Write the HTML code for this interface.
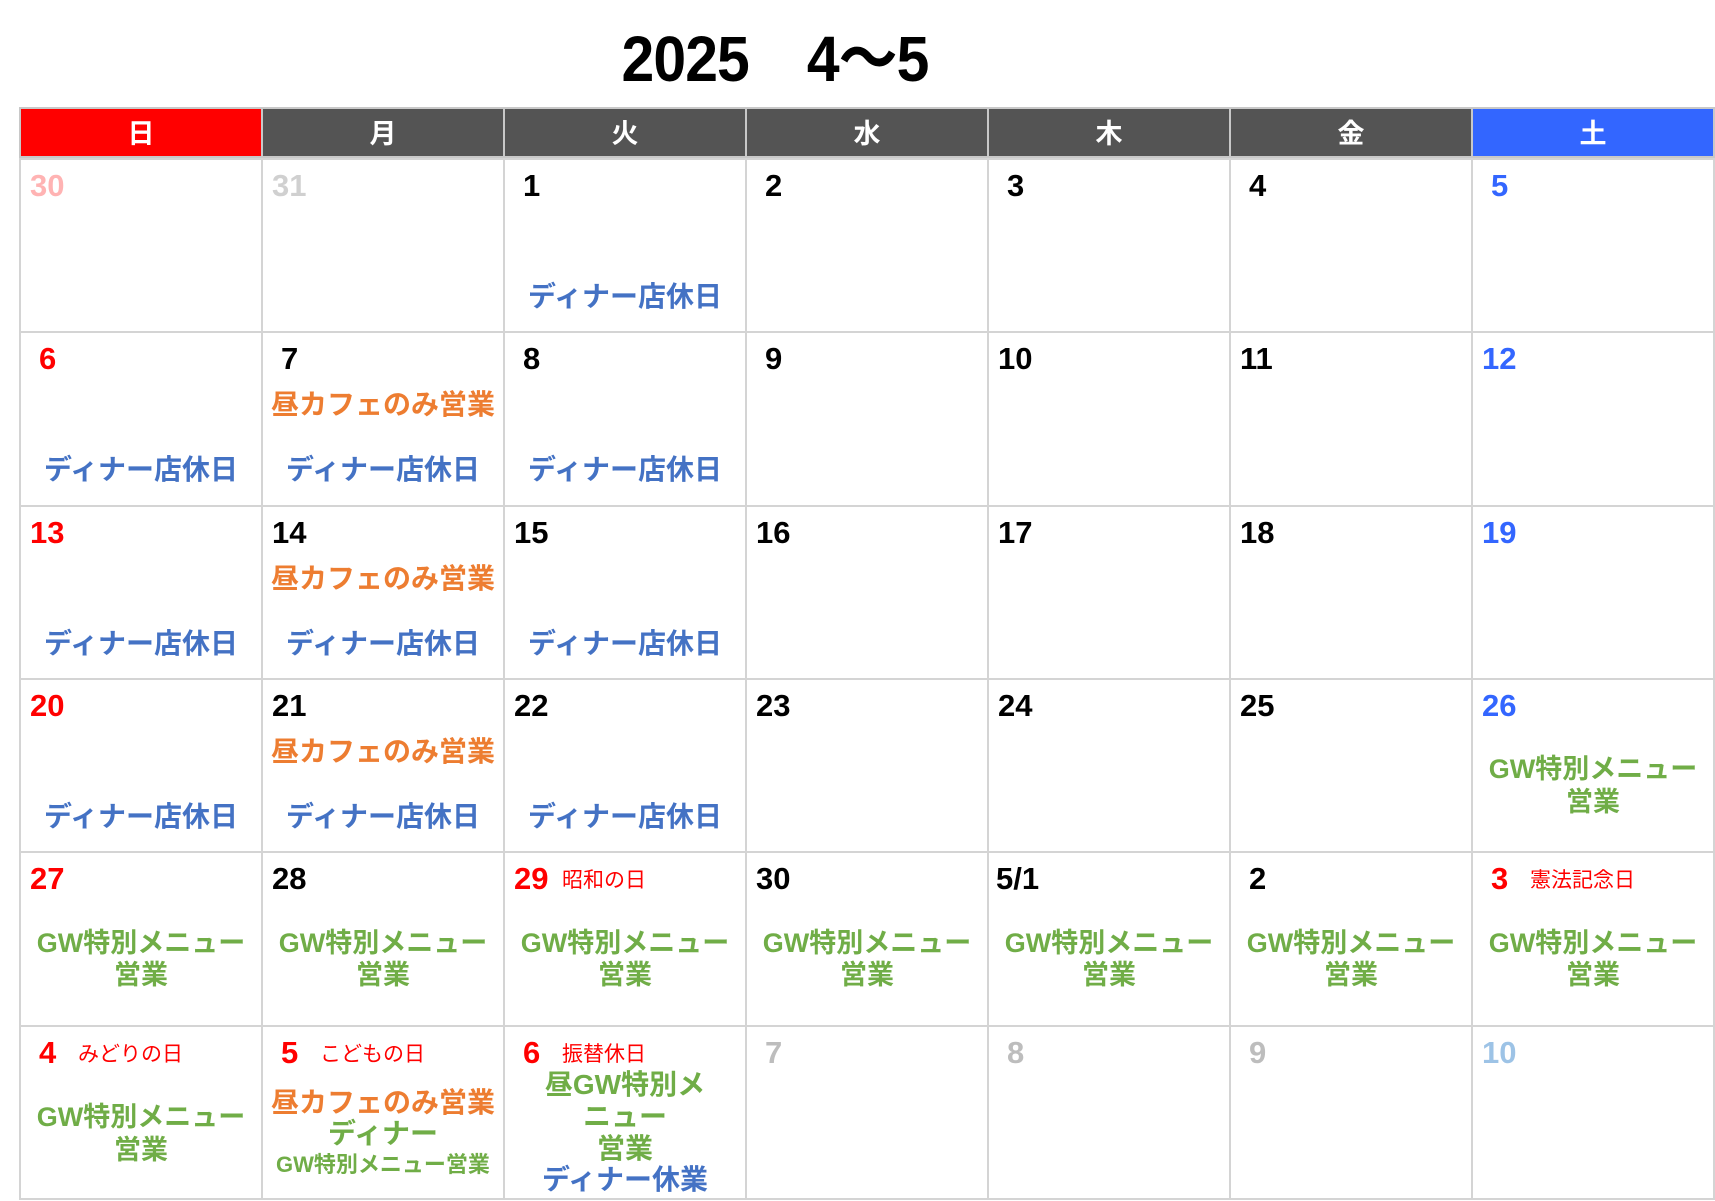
<!DOCTYPE html>
<html><head><meta charset="utf-8">
<style>
body{margin:0;width:1715px;height:1201px;background:#fff;position:relative;overflow:hidden;font-family:"Liberation Sans","Noto Sans CJK JP",sans-serif;}
.title{position:absolute;left:0;width:1550px;top:8px;text-align:center;font-size:64px;font-weight:bold;color:#000;letter-spacing:-1px;transform:scaleX(0.92);}
.hd{position:absolute;top:107px;height:51px;line-height:51px;text-align:center;color:#fff;font-weight:bold;font-size:27px;box-sizing:border-box;border:2px solid #c8c8c8;}
.cell{position:absolute;box-sizing:border-box;border:2px solid #d4d4d4;background:#fff;}
.num{position:absolute;top:6px;font-size:31px;font-weight:bold;line-height:40px;}
.hol{position:absolute;top:13px;left:57px;font-size:21px;color:#ff0000;line-height:30px;}
.ev{position:absolute;left:0;right:0;text-align:center;font-weight:bold;white-space:nowrap;line-height:32px;}
</style></head><body>
<div class="title">2025　4〜5</div>
<div id="cal"></div>
<script>
const weekdays=["日","月","火","水","木","金","土"];
const headColors=["#ff0000","#545454","#545454","#545454","#545454","#545454","#3366ff"];
const days=[["30","31","1","2","3","4","5"],["6","7","8","9","10","11","12"],["13","14","15","16","17","18","19"],["20","21","22","23","24","25","26"],["27","28","29","30","5/1","2","3"],["4","5","6","7","8","9","10"]];
const numColors=[["#ffb3b3","#d0d0d0","#000","#000","#000","#000","#3366ff"],["#ff0000","#000","#000","#000","#000","#000","#3366ff"],["#ff0000","#000","#000","#000","#000","#000","#3366ff"],["#ff0000","#000","#000","#000","#000","#000","#3366ff"],["#ff0000","#000","#ff0000","#000","#000","#000","#ff0000"],["#ff0000","#ff0000","#ff0000","#bdbdbd","#bdbdbd","#bdbdbd","#9dc3e6"]];
const holidays={"4-2":"昭和の日","4-6":"憲法記念日","5-0":"みどりの日","5-1":"こどもの日","5-2":"振替休日"};
const B="#4472c4",O="#ed7d31",G="#70ad47";
const D="ディナー店休日",C="昼カフェのみ営業";
const events={
"0-2":[[D,B,139,28]],
"1-0":[[D,B,139,28]],"1-1":[[C,O,74,28],[D,B,139,28]],"1-2":[[D,B,139,28]],
"2-0":[[D,B,139,28]],"2-1":[[C,O,74,28],[D,B,139,28]],"2-2":[[D,B,139,28]],
"3-0":[[D,B,139,28]],"3-1":[[C,O,74,28],[D,B,139,28]],"3-2":[[D,B,139,28]],"3-6":[["GW特別メニュー",G,91,27],["営業",G,124,27]],
"5-0":[["GW特別メニュー",G,92,27],["営業",G,125,27]],
"5-1":[[C,O,78,28],["ディナー",G,109,28],["GW特別メニュー営業",G,140,22]],
"5-2":[["昼GW特別メ",G,60,28],["ニュー",G,92,28],["営業",G,124,28],["ディナー休業",B,155,28]]
};
for(let c=0;c<7;c++)events["4-"+c]=[["GW特別メニュー",G,92,27],["営業",G,124,27]];
const cal=document.getElementById('cal');
const X0=19,CW=242,Y0=158,RH=173.3;
weekdays.forEach((w,c)=>{
  const h=document.createElement('div');h.className='hd';
  
  
  h.style.left=(X0+c*CW)+'px';h.style.width=(CW+2)+'px';h.style.background=headColors[c];h.textContent=w;cal.appendChild(h);
});
days.forEach((row,r)=>row.forEach((d,c)=>{
  const cell=document.createElement('div');cell.className='cell';
  
  
  const top=Math.round(Y0+r*RH);
  cell.style.left=(X0+c*CW)+'px';cell.style.top=top+'px';cell.style.width=(CW+2)+'px';cell.style.height=(Math.round(Y0+(r+1)*RH)-top+2)+'px';
  const n=document.createElement('div');n.className='num';
  
  
  n.style.left=(d==="5/1"?7:(d.length===1?18:9))+'px';n.style.color=numColors[r][c];n.textContent=d;cell.appendChild(n);
  const k=r+"-"+c;
  if(holidays[k]){const h=document.createElement('div');h.className='hol';
    
    
    h.textContent=holidays[k];cell.appendChild(h);}
  (events[k]||[]).forEach(e=>{const ev=document.createElement('div');ev.className='ev';
    
    
    ev.textContent=e[0];ev.style.color=e[1];ev.style.top=(e[2]-18)+'px';ev.style.fontSize=e[3]+'px';cell.appendChild(ev);});
  cal.appendChild(cell);
}));
</script>
</body></html>
